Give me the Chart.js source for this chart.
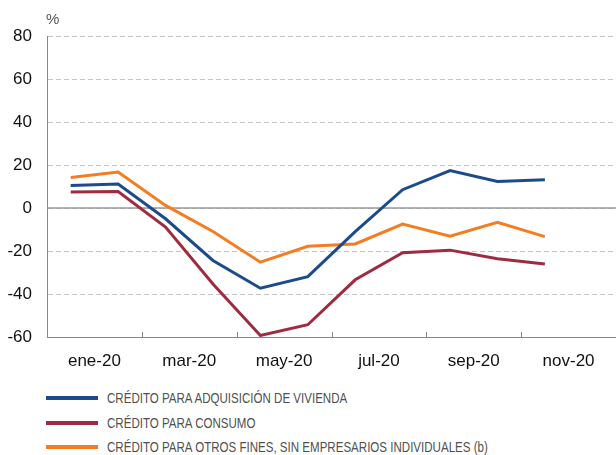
<!DOCTYPE html>
<html>
<head>
<meta charset="utf-8">
<script src="https://cdn.jsdelivr.net/npm/chart.js@4.4.1/dist/chart.umd.min.js"></script>
<style>
  html, body { margin: 0; padding: 0; background: #fff; }
  #wrap { position: relative; width: 616px; height: 455px; }
  #box { position: absolute; left: 0; top: 0; width: 616px; height: 372px; }
  #legend { position: absolute; left: 46px; top: 386px; }
  .row { position: relative; height: 24.5px; }
  .sw { position: absolute; left: 0; top: 10px; width: 52px; height: 4px; }
  .tx { position: absolute; left: 61px; top: 3px; white-space: nowrap;
        font-family: "Liberation Sans", Arial, sans-serif; font-size: 15px; color: #505050;
        transform: scaleX(0.77); transform-origin: left center; }
</style>
</head>
<body>
<div id="wrap">
  <div id="box"><canvas id="grafico"></canvas></div>
  <div id="legend"></div>
</div>
<script>
// meses con dato (ene-20 .. nov-20)
var meses = ['ene-20', 'feb-20', 'mar-20', 'abr-20', 'may-20', 'jun-20',
             'jul-20', 'ago-20', 'sep-20', 'oct-20', 'nov-20'];
// etiquetas del eje x, una cada dos meses
var etiquetasX = ['ene-20', 'mar-20', 'may-20', 'jul-20', 'sep-20', 'nov-20'];
var ticksY = [-60, -40, -20, 0, 20, 40, 60, 80];

var vivienda = [10.5, 11.2, -5.0, -24.4, -37.3, -31.9, -11.0, 8.5, 17.4, 12.3, 13.1];
var consumo  = [7.4, 7.7, -8.9, -35.3, -59.3, -54.3, -33.4, -20.8, -19.6, -23.6, -26.0];
var otros    = [14.2, 16.7, 1.2, -10.9, -25.2, -17.8, -16.7, -7.5, -13.1, -6.7, -13.3];

var nombres = ['CRÉDITO PARA ADQUISICIÓN DE VIVIENDA',
               'CRÉDITO PARA CONSUMO',
               'CRÉDITO PARA OTROS FINES, SIN EMPRESARIOS INDIVIDUALES (b)'];
var colores = ['#1c4b8c', '#9e2b40', '#f47d22'];

// cada mes ocupa una unidad del eje; el punto va en el centro
function puntos(serie) {
    return serie.map(function (v, i) { return { x: i + 0.5, y: v }; });
}

var extras = {
    id: 'extras',
    beforeDatasetsDraw: function (chart) {
        var ctx = chart.ctx, a = chart.chartArea, y = chart.scales.y;
        var y0 = y.getPixelForValue(0);
        ctx.save();
        ctx.strokeStyle = '#9a9a9a';
        ctx.lineWidth = 1.5;
        ctx.beginPath();
        ctx.moveTo(a.left, y0);
        ctx.lineTo(a.right, y0);
        ctx.stroke();
        ctx.restore();
    },
    afterDraw: function (chart) {
        var ctx = chart.ctx, a = chart.chartArea, x = chart.scales.x;
        ctx.save();
        // marcas interiores cada dos meses
        ctx.strokeStyle = '#888';
        ctx.lineWidth = 1;
        for (var m = 2; m < 12; m += 2) {
            var px = Math.round(x.getPixelForValue(m)) + 0.5;
            ctx.beginPath();
            ctx.moveTo(px, a.bottom);
            ctx.lineTo(px, a.bottom - 5);
            ctx.stroke();
        }
        ctx.fillStyle = '#555';
        ctx.font = '15px "Liberation Sans", Arial, sans-serif';
        ctx.textAlign = 'left';
        ctx.textBaseline = 'middle';
        ctx.fillText('%', a.left - 1, 20);
        ctx.restore();
    }
};

var ctx = document.getElementById('grafico').getContext('2d');
var myChart = new Chart(ctx, {
    type: 'line',
    data: {
        datasets: [vivienda, consumo, otros].map(function (s, i) {
            return {
                label: nombres[i],
                data: puntos(s),
                borderColor: colores[i],
                backgroundColor: colores[i],
                borderWidth: 3,
                pointRadius: 0,
                tension: 0
            };
        })
    },
    options: {
        responsive: true,
        maintainAspectRatio: false,
        animation: false,
        layout: { padding: { top: 36, right: 0, left: 0, bottom: 0 } },
        plugins: { legend: { display: false }, tooltip: { enabled: false } },
        scales: {
            x: {
                type: 'linear',
                min: 0,
                max: 12,
                afterFit: function (s) { s.height = 35; s.paddingLeft = 0; s.paddingRight = 0; },
                grid: { display: false, drawTicks: false },
                border: { display: true, color: '#888', width: 1 },
                ticks: {
                    stepSize: 1,
                    autoSkip: false,
                    maxRotation: 0,
                    padding: 14,
                    color: '#111',
                    font: { family: '"Liberation Sans", Arial, sans-serif', size: 17 },
                    callback: function (v) {
                        return (v % 2 === 1) ? etiquetasX[(v - 1) / 2] : '';
                    }
                }
            },
            y: {
                min: -60,
                max: 80,
                afterFit: function (s) { s.width = 47; },
                afterBuildTicks: function (s) {
                    s.ticks = ticksY.map(function (v) { return { value: v }; });
                },
                grid: { color: '#c4c4c4', lineWidth: 1, drawTicks: false },
                border: { display: true, color: '#888', width: 1, dash: [5, 3] },
                ticks: {
                    padding: 15,
                    color: '#111',
                    font: { family: '"Liberation Sans", Arial, sans-serif', size: 17 }
                }
            }
        }
    },
    plugins: [extras]
});

// leyenda en columna bajo el gráfico
var leg = document.getElementById('legend');
myChart.data.datasets.forEach(function (d) {
    var row = document.createElement('div');
    row.className = 'row';
    row.innerHTML = '<div class="sw" style="background:' + d.borderColor + '"></div>' +
                    '<div class="tx">' + d.label + '</div>';
    leg.appendChild(row);
});
</script>
</body>
</html>
